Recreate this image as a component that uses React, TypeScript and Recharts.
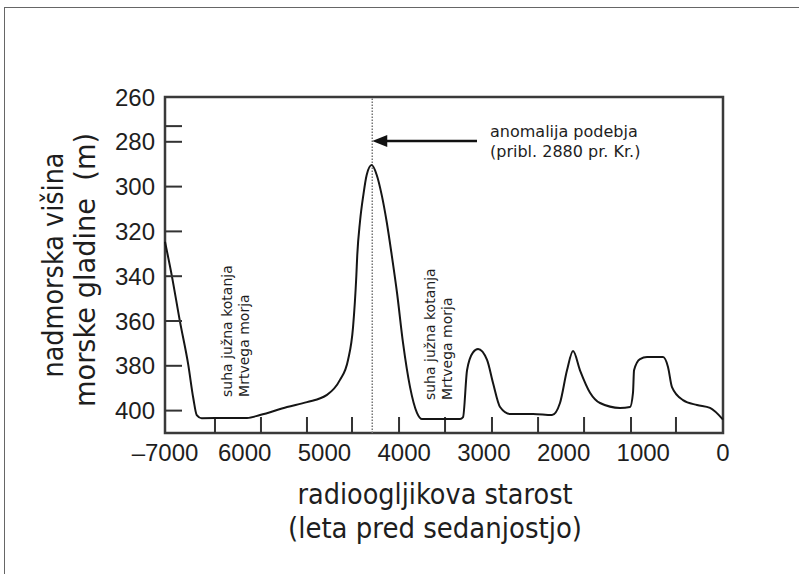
import {
  LineChart,
  Line,
  XAxis,
  YAxis,
  Label,
  ReferenceArea,
  ReferenceLine,
  ReferenceDot
} from "recharts";

// radiocarbon age (negative = years before present) vs. level (m)
const ages = [
  -7000, -6916, -6812, -6708, -6645, -6602, -6540, -6200, -5971,
  -5808, -5469, -5219, -4968, -4805, -4704, -4641, -4600, -4588, -4554,
  -4512, -4470, -4407, -4344, -4281, -4219, -4156, -4089, -4014, -3926,
  -3839, -3776, -3300, -3261, -3211, -3136, -3073, -2960, -2885, -2797,
  -2672, -2383, -2145, -2045, -1957, -1881, -1794, -1668, -1543, -1292,
  -1166, -1129, -1116, -1041, -953, -752, -690, -640, -502, -326, -163, 0
];
const levels = [
  324.6, 339.5, 360.3, 379.6, 394.5, 402, 403.4, 403.3, 403.3,
  402, 398.4, 396.2, 393, 386.3, 377.4, 362.7, 340, 330.5, 315.7,
  303.8, 294.8, 290.4, 294.8, 303.8, 315.7, 330.5, 347.5, 369.8, 389.5,
  401, 403.8, 403.8, 402.9, 382, 374, 372.5, 377.4, 387.7, 398.4,
  401.5, 401.5, 402, 396.6, 382, 373.4, 382, 392, 396.6, 398.8,
  398.4, 392, 382, 377, 376.1, 376.1, 380.5, 389.5, 395.3, 397.5, 398.8, 404
];

const xMajor = [-7000, -6000, -5000, -4000, -3000, -2000, -1000, 0];
const xMinor = [-6373, -5796, -5219, -4654, -4064, -3487, -2898, -2320, -1743, -1154, -590];
const yLabels = [260, 280, 300, 320, 340, 360, 380, 400];
const yExtra = [273];

const anomalyAge = -4400;
const anomalyText = ["anomalija podebja", "(pribl. 2880 pr. Kr.)"];
const basinText = ["suha južna kotanja", "Mrtvega morja"];

const data = ages.map((x, i) => ({ x, y: levels[i] }));

// inner tick marks on the bottom frame, drawn as separate little strokes (null breaks the path)
const minorTickData = xMinor.flatMap(v => [
  { x: v, t: 410 },
  { x: v, t: 402.9 },
  { x: v, t: null }
]);

const textFont = "'DejaVu Sans', sans-serif";
const numFont = "'Liberation Sans', Arial, sans-serif";
const ink = "#1e1e1e";

const fmtAge = (v: number) => (v === -7000 ? "–7000" : String(Math.abs(v)));

const XTick = (props: any) => {
  const { x, y, payload } = props;
  return (
    <text x={x} y={y + 18} textAnchor="middle" fontFamily={numFont} fontSize={24} fill={ink}>
      {fmtAge(payload.value)}
    </text>
  );
};

const YTick = (props: any) => {
  const { x, y, payload } = props;
  const v = payload.value;
  return (
    <g>
      {v !== 260 && <line x1={x + 10} x2={x + 27} y1={y} y2={y} stroke="#333" strokeWidth={2} />}
      {yLabels.includes(v) && (
        <text x={x} y={y + 8.5} textAnchor="end" fontFamily={numFont} fontSize={24} fill={ink}>
          {v}
        </text>
      )}
    </g>
  );
};

const YTitle = (props: any) => {
  const vb = props.viewBox;
  const cy = vb.y + vb.height / 2;
  return (
    <g fontFamily={textFont} fontSize={29} fill={ink}>
      <text transform={`translate(${vb.x - 22},${cy}) rotate(-90)`} textAnchor="middle"
        textLength={225} lengthAdjust="spacingAndGlyphs">
        nadmorska višina
      </text>
      <text transform={`translate(${vb.x + 10},${cy + 5}) rotate(-90)`} textAnchor="middle"
        textLength={274} lengthAdjust="spacingAndGlyphs" xmlSpace="preserve">
        morske gladine  (m)
      </text>
    </g>
  );
};

const XTitle = (props: any) => {
  const vb = props.viewBox;
  const cx = vb.x + vb.width / 2 - 9;
  return (
    <g fontFamily={textFont} fontSize={28} fill={ink}>
      <text x={cx} y={vb.y + 71} textAnchor="middle" textLength={275} lengthAdjust="spacingAndGlyphs">
        radioogljikova starost
      </text>
      <text x={cx} y={vb.y + 105} textAnchor="middle" textLength={294} lengthAdjust="spacingAndGlyphs">
        (leta pred sedanjostjo)
      </text>
    </g>
  );
};

const Arrow = (props: any) => {
  const { x1, y1, x2 } = props;
  return (
    <g>
      <line x1={x1} y1={y1} x2={x2 + 12} y2={y1} stroke="#111" strokeWidth={2.5} />
      <polygon points={`${x2},${y1} ${x2 + 15},${y1 - 6} ${x2 + 15},${y1 + 6}`} fill="#111" />
      <g fontFamily={textFont} fontSize={16} fill={ink}>
        <text x={x1 + 13} y={y1 - 4}>{anomalyText[0]}</text>
        <text x={x1 + 13} y={y1 + 16}>{anomalyText[1]}</text>
      </g>
    </g>
  );
};

const BasinNote = (props: any) => {
  const { cx, cy } = props;
  return (
    <g fontFamily={textFont} fontSize={14} fill={ink}>
      <text transform={`translate(${cx},${cy}) rotate(-90)`}>{basinText[0]}</text>
      <text transform={`translate(${cx + 17},${cy}) rotate(-90)`}>{basinText[1]}</text>
    </g>
  );
};

export default function App() {
  return (
    <div style={{ position: "absolute", left: 0, top: 0, width: 799, height: 574, overflow: "hidden", background: "#fff" }}>
      <div style={{ position: "absolute", left: 4, top: 7, width: 840, height: 620, borderLeft: "1.5px solid #666", borderTop: "1.5px solid #666" }} />
      <LineChart
        width={799}
        height={574}
        data={data}
        margin={{ top: 97, right: 76, left: 85, bottom: 101 }}
        style={{ position: "absolute", left: 0, top: 0 }}
      >
        <XAxis
          dataKey="x"
          type="number"
          domain={[-7000, 0]}
          ticks={xMajor}
          interval={0}
          height={40}
          tickSize={0}
          tickMargin={10}
          tickLine={false}
          axisLine={false}
          tick={XTick}
        >
          <Label content={XTitle} />
        </XAxis>
        <YAxis
          type="number"
          domain={[260, 410]}
          reversed
          ticks={[...yLabels, ...yExtra].sort((a, b) => a - b)}
          interval={0}
          width={80}
          tickSize={0}
          tickMargin={10}
          tickLine={false}
          axisLine={false}
          tick={YTick}
        >
          <Label content={YTitle} />
        </YAxis>
        <ReferenceArea x1={-7000} x2={0} y1={260} y2={410} fill="none" stroke="#3a3a3a" strokeWidth={2.5} />
        <ReferenceLine x={anomalyAge} stroke="#777" strokeWidth={1.5} strokeDasharray="1.5 1.5" />
        <ReferenceLine
          segment={[{ x: -3086, y: 279.6 }, { x: anomalyAge, y: 279.6 }]}
          shape={Arrow}
        />
        <ReferenceDot x={-6159} y={393.9} r={1} shape={BasinNote} />
        <ReferenceDot x={-3613} y={395.3} r={1} shape={BasinNote} />
        <Line
          data={minorTickData}
          type="linear"
          dataKey="t"
          stroke="#333"
          strokeWidth={2}
          dot={false}
          activeDot={false}
          connectNulls={false}
          legendType="none"
          isAnimationActive={false}
        />
        <Line
          type="monotone"
          dataKey="y"
          stroke="#151515"
          strokeWidth={2}
          dot={false}
          isAnimationActive={false}
        />
      </LineChart>
    </div>
  );
}
